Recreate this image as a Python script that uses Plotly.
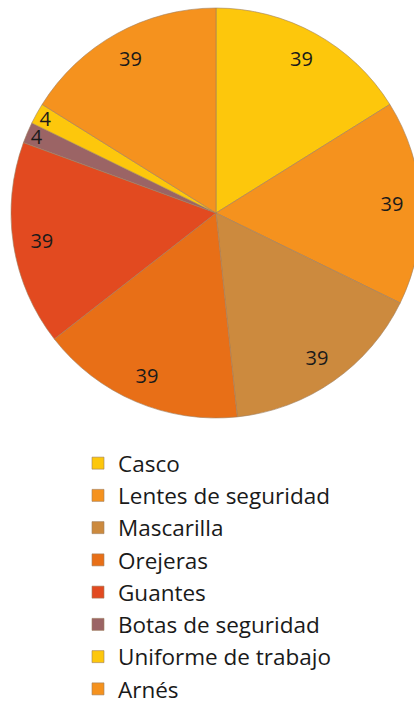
import plotly.graph_objects as go

labels = ["Casco", "Lentes de seguridad", "Mascarilla", "Orejeras", "Guantes",
          "Botas de seguridad", "Uniforme de trabajo", "Arnés"]
values = [39, 39, 39, 39, 39, 4, 4, 39]
colors = ["#FDC70C", "#F5921E", "#CC8A3E", "#E86F17", "#E24A20",
          "#9B6465", "#FDC70C", "#F5921E"]

W, H = 430, 724
dom = dict(x=[11 / W, 421 / W], y=[(H - 418) / H, (H - 8) / H])

# filled slices (no text)
fig = go.Figure(go.Pie(
    labels=labels,
    values=values,
    sort=False,
    direction="clockwise",
    rotation=0,
    marker=dict(colors=colors, line=dict(color="#A08060", width=0.6)),
    textinfo="none",
    domain=dom,
    hoverinfo="label+value",
))

# transparent ring carrying the data labels near the outer edge
fig.add_trace(go.Pie(
    labels=labels,
    values=values,
    sort=False,
    direction="clockwise",
    rotation=0,
    hole=0.72,
    marker=dict(colors=["rgba(0,0,0,0)"] * len(values), line=dict(width=0)),
    textinfo="value",
    textposition="inside",
    insidetextorientation="horizontal",
    textfont=dict(family="Open Sans", size=20, color="#1a1a1a"),
    domain=dom,
    showlegend=False,
    hoverinfo="skip",
))

fig.update_layout(
    width=W, height=H, autosize=False,
    margin=dict(l=0, r=0, t=0, b=0, autoexpand=False),
    paper_bgcolor="white",
    uniformtext=dict(minsize=20, mode="show"),
    showlegend=True,
    legend=dict(
        orientation="v",
        x=78 / W, xanchor="left",
        y=1 - 442 / H, yanchor="top",
        font=dict(family="Open Sans", size=22.5, color="#1a1a1a"),
        traceorder="normal",
        itemclick=False,
    ),
)

fig.write_html(
    "out.html",
    config={"displayModeBar": False},
    post_script="document.body.style.margin='0';document.body.style.overflow='hidden';document.documentElement.style.overflow='hidden';",
)
